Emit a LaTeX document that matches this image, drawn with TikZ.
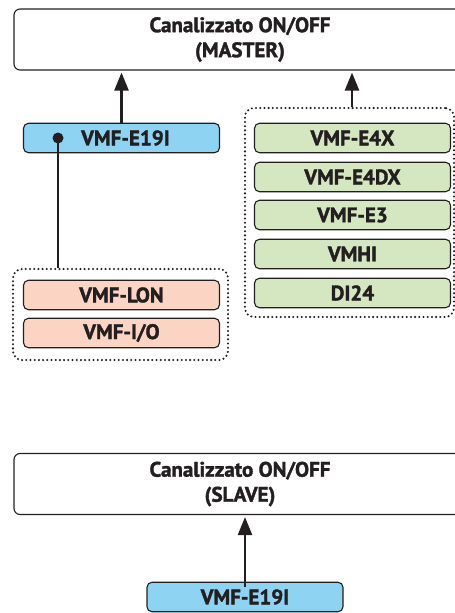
\documentclass[tikz,border=0pt]{standalone}
\usepackage{fontspec}
\setmainfont{PT Sans}
\newfontfamily\lblfont{PT Sans Bold}[FakeBold=1.6]
\usetikzlibrary{arrows.meta}
\definecolor{ink}{HTML}{231F20}
\definecolor{bluefill}{HTML}{8ED3F2}
\definecolor{greenfill}{HTML}{D5E7C1}
\definecolor{pinkfill}{HTML}{FBD4C3}
\tikzset{
  lbl/.style={font=\fontsize{21}{25}\lblfont, text=ink},
  bigbox/.style={lbl, draw=ink, line width=1.1pt, rounded corners=6pt, minimum width=452pt, minimum height=61pt, inner sep=0pt, align=center},
  unit/.style={lbl, draw=ink, line width=1.1pt, rounded corners=5pt, minimum width=196pt, minimum height=29.5pt, inner sep=0pt},
  bluebox/.style={unit, fill=bluefill},
  greenbox/.style={unit, fill=greenfill},
  pinkbox/.style={unit, fill=pinkfill},
  group/.style={draw=ink, line width=2.3pt, line cap=round, dash pattern=on 0pt off 4.2pt, rounded corners=9pt, inner sep=0pt},
  arr/.style={draw=ink, line width=2.4pt, -{Triangle[length=18pt,width=14pt]}, shorten >=2pt},
  wire/.style={draw=ink, line width=2.4pt}
}
\begin{document}
\begin{tikzpicture}[x=1pt,y=-1pt]
\useasboundingbox (0,0) rectangle (455,613);
% master
\node[bigbox] (master) at (240,39.5) {Canalizzato ON/OFF\\(MASTER)};
% left blue
\node[bluebox] (e19a) at (121.5,138) {\hspace{8pt}VMF-E19I};
\node[circle, fill=ink, minimum size=11pt, inner sep=0pt] (dot) at (58,138) {};
% pink group
\node[group, minimum width=215pt, minimum height=91pt] (pinkg) at (120.5,314.5) {};
\node[pinkbox] (lon) at (121.5,295) {VMF-LON};
\node[pinkbox] (io) at (121.5,333) {VMF-I/O};
% green group
\node[group, minimum width=209pt, minimum height=209pt] (greeng) at (349.5,212.5) {};
\node[greenbox] (e4x) at (352.5,138) {VMF-E4X};
\node[greenbox] (e4dx) at (352.5,177) {VMF-E4DX};
\node[greenbox] (e3) at (352.5,215) {VMF-E3};
\node[greenbox] (vmhi) at (352.5,254) {VMHI};
\node[greenbox] (di24) at (352.5,293) {DI24};
% slave
\node[bigbox] (slave) at (240,484) {Canalizzato ON/OFF\\(SLAVE)};
\node[bluebox] (e19b) at (245,597) {VMF-E19I};
% connectors
\draw[arr] (e19a.north) -- (e19a.north |- master.south);
\coordinate (gtop) at ([xshift=2.5pt]greeng.north);
\draw[arr] (gtop) -- (gtop |- master.south);
\draw[wire] (dot.center) -- (dot.center |- pinkg.north);
\draw[arr] ([yshift=-5pt]e19b.north) -- (e19b.north |- slave.south);
\end{tikzpicture}
\end{document}
